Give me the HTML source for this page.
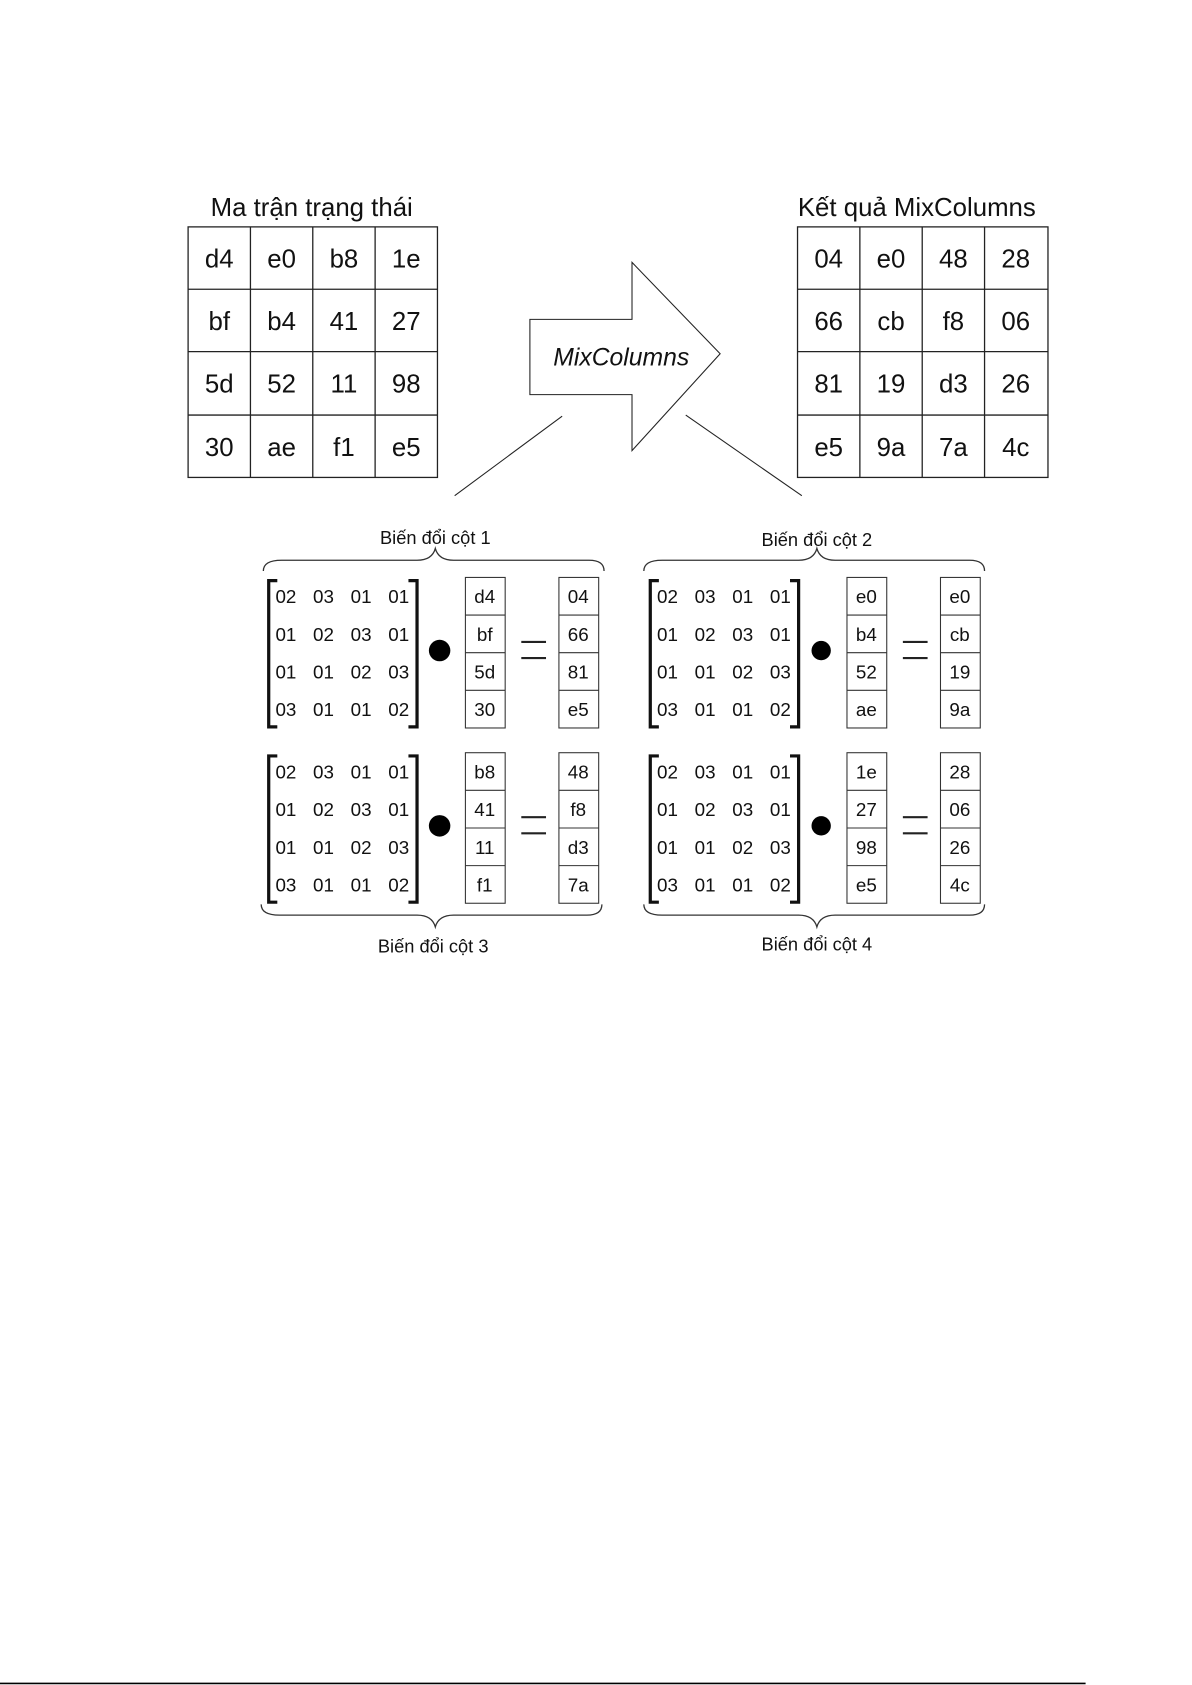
<!DOCTYPE html>
<html><head><meta charset="utf-8"><style>
html,body{margin:0;padding:0;background:#fff;width:1192px;height:1685px;overflow:hidden}
svg{display:block}
text{font-family:"Liberation Sans",sans-serif;fill:#111}
.b{font-size:24px;text-anchor:middle}
.s{font-size:17.5px;text-anchor:middle}
.l{font-size:17px;text-anchor:middle}
</style></head><body>
<svg width="1192" height="1685" viewBox="0 0 1109 1567" preserveAspectRatio="none">
<g stroke="#222" stroke-width="1.2" fill="none">
<rect x="175" y="211" width="232" height="233"/>
<line x1="233" y1="211" x2="233" y2="444"/><line x1="291" y1="211" x2="291" y2="444"/><line x1="349" y1="211" x2="349" y2="444"/>
<line x1="175" y1="269" x2="407" y2="269"/><line x1="175" y1="327" x2="407" y2="327"/><line x1="175" y1="386" x2="407" y2="386"/>
<rect x="742" y="211" width="233" height="233"/>
<line x1="800" y1="211" x2="800" y2="444"/><line x1="858" y1="211" x2="858" y2="444"/><line x1="916" y1="211" x2="916" y2="444"/>
<line x1="742" y1="269" x2="975" y2="269"/><line x1="742" y1="327" x2="975" y2="327"/><line x1="742" y1="386" x2="975" y2="386"/>
<path d="M493,297 L588,297 L588,244 L670,329 L588,419 L588,367 L493,367 Z" stroke-width="1"/>
<line x1="523" y1="387" x2="423" y2="461" stroke-width="1"/>
<line x1="638" y1="386" x2="746" y2="461" stroke-width="1"/>
</g>
<text x="290" y="201" style="font-size:24px;text-anchor:middle">Ma trận trạng thái</text>
<text x="853" y="201" style="font-size:24px;text-anchor:middle">Kết quả MixColumns</text>
<text x="578" y="340" style="font-size:23px;text-anchor:middle;font-style:italic">MixColumns</text>
<g class="b">
<text x="204" y="249" class="b">d4</text><text x="262" y="249" class="b">e0</text><text x="320" y="249" class="b">b8</text><text x="378" y="249" class="b">1e</text>
<text x="204" y="307" class="b">bf</text><text x="262" y="307" class="b">b4</text><text x="320" y="307" class="b">41</text><text x="378" y="307" class="b">27</text>
<text x="204" y="365" class="b">5d</text><text x="262" y="365" class="b">52</text><text x="320" y="365" class="b">11</text><text x="378" y="365" class="b">98</text>
<text x="204" y="424" class="b">30</text><text x="262" y="424" class="b">ae</text><text x="320" y="424" class="b">f1</text><text x="378" y="424" class="b">e5</text>
<text x="771" y="249" class="b">04</text><text x="829" y="249" class="b">e0</text><text x="887" y="249" class="b">48</text><text x="945" y="249" class="b">28</text>
<text x="771" y="307" class="b">66</text><text x="829" y="307" class="b">cb</text><text x="887" y="307" class="b">f8</text><text x="945" y="307" class="b">06</text>
<text x="771" y="365" class="b">81</text><text x="829" y="365" class="b">19</text><text x="887" y="365" class="b">d3</text><text x="945" y="365" class="b">26</text>
<text x="771" y="424" class="b">e5</text><text x="829" y="424" class="b">9a</text><text x="887" y="424" class="b">7a</text><text x="945" y="424" class="b">4c</text>
</g>

<g>
<g stroke="#111" stroke-width="3" fill="none"><path d="M258,540 L250,540 L250,676 L258,676"/><path d="M380,540 L388,540 L388,676 L380,676"/></g>
<g stroke="#333" stroke-width="1" fill="none">
<rect x="433" y="537" width="37" height="140"/><line x1="433" y1="572" x2="470" y2="572"/><line x1="433" y1="607" x2="470" y2="607"/><line x1="433" y1="642" x2="470" y2="642"/>
<rect x="520" y="537" width="37" height="140"/><line x1="520" y1="572" x2="557" y2="572"/><line x1="520" y1="607" x2="557" y2="607"/><line x1="520" y1="642" x2="557" y2="642"/></g>
<circle cx="409" cy="605" r="10" fill="#000"/>
<g stroke="#222" stroke-width="2"><line x1="485" y1="597" x2="508" y2="597"/><line x1="485" y1="612" x2="508" y2="612"/></g>
</g>
<g transform="translate(355,0)">
<g stroke="#111" stroke-width="3" fill="none"><path d="M258,540 L250,540 L250,676 L258,676"/><path d="M380,540 L388,540 L388,676 L380,676"/></g>
<g stroke="#333" stroke-width="1" fill="none">
<rect x="433" y="537" width="37" height="140"/><line x1="433" y1="572" x2="470" y2="572"/><line x1="433" y1="607" x2="470" y2="607"/><line x1="433" y1="642" x2="470" y2="642"/>
<rect x="520" y="537" width="37" height="140"/><line x1="520" y1="572" x2="557" y2="572"/><line x1="520" y1="607" x2="557" y2="607"/><line x1="520" y1="642" x2="557" y2="642"/></g>
<circle cx="409" cy="605" r="9" fill="#000"/>
<g stroke="#222" stroke-width="2"><line x1="485" y1="597" x2="508" y2="597"/><line x1="485" y1="612" x2="508" y2="612"/></g>
</g>
<g transform="translate(0,163)">
<g stroke="#111" stroke-width="3" fill="none"><path d="M258,540 L250,540 L250,676 L258,676"/><path d="M380,540 L388,540 L388,676 L380,676"/></g>
<g stroke="#333" stroke-width="1" fill="none">
<rect x="433" y="537" width="37" height="140"/><line x1="433" y1="572" x2="470" y2="572"/><line x1="433" y1="607" x2="470" y2="607"/><line x1="433" y1="642" x2="470" y2="642"/>
<rect x="520" y="537" width="37" height="140"/><line x1="520" y1="572" x2="557" y2="572"/><line x1="520" y1="607" x2="557" y2="607"/><line x1="520" y1="642" x2="557" y2="642"/></g>
<circle cx="409" cy="605" r="10" fill="#000"/>
<g stroke="#222" stroke-width="2"><line x1="485" y1="597" x2="508" y2="597"/><line x1="485" y1="612" x2="508" y2="612"/></g>
</g>
<g transform="translate(355,163)">
<g stroke="#111" stroke-width="3" fill="none"><path d="M258,540 L250,540 L250,676 L258,676"/><path d="M380,540 L388,540 L388,676 L380,676"/></g>
<g stroke="#333" stroke-width="1" fill="none">
<rect x="433" y="537" width="37" height="140"/><line x1="433" y1="572" x2="470" y2="572"/><line x1="433" y1="607" x2="470" y2="607"/><line x1="433" y1="642" x2="470" y2="642"/>
<rect x="520" y="537" width="37" height="140"/><line x1="520" y1="572" x2="557" y2="572"/><line x1="520" y1="607" x2="557" y2="607"/><line x1="520" y1="642" x2="557" y2="642"/></g>
<circle cx="409" cy="605" r="9" fill="#000"/>
<g stroke="#222" stroke-width="2"><line x1="485" y1="597" x2="508" y2="597"/><line x1="485" y1="612" x2="508" y2="612"/></g>
</g>

<g stroke="#333" stroke-width="1.2" fill="none">
<path d="M245,531 Q245,521 262,521 L388,521 Q402,521 405,510 Q408,521 422,521 L548,521 Q562,521 562,531"/>
<path d="M599,531 Q599,521 616,521 L743,521 Q757,521 760,510 Q763,521 777,521 L902,521 Q916,521 916,531"/>
<path d="M243,841 Q243,851 260,851 L388,851 Q402,851 405,862 Q408,851 422,851 L546,851 Q560,851 560,841"/>
<path d="M599,841 Q599,851 616,851 L743,851 Q757,851 760,862 Q763,851 777,851 L902,851 Q916,851 916,841"/>
</g>
<text x="405" y="506" class="l">Biến đổi cột 1</text>
<text x="760" y="508" class="l">Biến đổi cột 2</text>
<text x="403" y="886" class="l">Biến đổi cột 3</text>
<text x="760" y="884" class="l">Biến đổi cột 4</text>

<g class="s">
<text x="266" y="561" class="s">02</text><text x="301" y="561" class="s">03</text><text x="336" y="561" class="s">01</text><text x="371" y="561" class="s">01</text>
<text x="266" y="596" class="s">01</text><text x="301" y="596" class="s">02</text><text x="336" y="596" class="s">03</text><text x="371" y="596" class="s">01</text>
<text x="266" y="631" class="s">01</text><text x="301" y="631" class="s">01</text><text x="336" y="631" class="s">02</text><text x="371" y="631" class="s">03</text>
<text x="266" y="666" class="s">03</text><text x="301" y="666" class="s">01</text><text x="336" y="666" class="s">01</text><text x="371" y="666" class="s">02</text>
<text x="621" y="561" class="s">02</text><text x="656" y="561" class="s">03</text><text x="691" y="561" class="s">01</text><text x="726" y="561" class="s">01</text>
<text x="621" y="596" class="s">01</text><text x="656" y="596" class="s">02</text><text x="691" y="596" class="s">03</text><text x="726" y="596" class="s">01</text>
<text x="621" y="631" class="s">01</text><text x="656" y="631" class="s">01</text><text x="691" y="631" class="s">02</text><text x="726" y="631" class="s">03</text>
<text x="621" y="666" class="s">03</text><text x="656" y="666" class="s">01</text><text x="691" y="666" class="s">01</text><text x="726" y="666" class="s">02</text>
<text x="266" y="724" class="s">02</text><text x="301" y="724" class="s">03</text><text x="336" y="724" class="s">01</text><text x="371" y="724" class="s">01</text>
<text x="266" y="759" class="s">01</text><text x="301" y="759" class="s">02</text><text x="336" y="759" class="s">03</text><text x="371" y="759" class="s">01</text>
<text x="266" y="794" class="s">01</text><text x="301" y="794" class="s">01</text><text x="336" y="794" class="s">02</text><text x="371" y="794" class="s">03</text>
<text x="266" y="829" class="s">03</text><text x="301" y="829" class="s">01</text><text x="336" y="829" class="s">01</text><text x="371" y="829" class="s">02</text>
<text x="621" y="724" class="s">02</text><text x="656" y="724" class="s">03</text><text x="691" y="724" class="s">01</text><text x="726" y="724" class="s">01</text>
<text x="621" y="759" class="s">01</text><text x="656" y="759" class="s">02</text><text x="691" y="759" class="s">03</text><text x="726" y="759" class="s">01</text>
<text x="621" y="794" class="s">01</text><text x="656" y="794" class="s">01</text><text x="691" y="794" class="s">02</text><text x="726" y="794" class="s">03</text>
<text x="621" y="829" class="s">03</text><text x="656" y="829" class="s">01</text><text x="691" y="829" class="s">01</text><text x="726" y="829" class="s">02</text>
<text x="451" y="561" class="s">d4</text><text x="451" y="596" class="s">bf</text><text x="451" y="631" class="s">5d</text><text x="451" y="666" class="s">30</text>
<text x="538" y="561" class="s">04</text><text x="538" y="596" class="s">66</text><text x="538" y="631" class="s">81</text><text x="538" y="666" class="s">e5</text>
<text x="806" y="561" class="s">e0</text><text x="806" y="596" class="s">b4</text><text x="806" y="631" class="s">52</text><text x="806" y="666" class="s">ae</text>
<text x="893" y="561" class="s">e0</text><text x="893" y="596" class="s">cb</text><text x="893" y="631" class="s">19</text><text x="893" y="666" class="s">9a</text>
<text x="451" y="724" class="s">b8</text><text x="451" y="759" class="s">41</text><text x="451" y="794" class="s">11</text><text x="451" y="829" class="s">f1</text>
<text x="538" y="724" class="s">48</text><text x="538" y="759" class="s">f8</text><text x="538" y="794" class="s">d3</text><text x="538" y="829" class="s">7a</text>
<text x="806" y="724" class="s">1e</text><text x="806" y="759" class="s">27</text><text x="806" y="794" class="s">98</text><text x="806" y="829" class="s">e5</text>
<text x="893" y="724" class="s">28</text><text x="893" y="759" class="s">06</text><text x="893" y="794" class="s">26</text><text x="893" y="829" class="s">4c</text>
</g>
<line x1="0" y1="1565.5" x2="1010" y2="1565.5" stroke="#000" stroke-width="1.5"/>
</svg>
</body></html>
